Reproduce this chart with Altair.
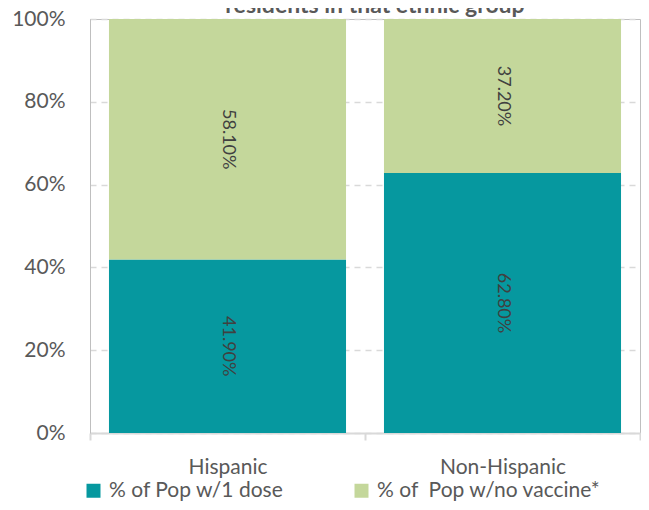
import altair as alt
import pandas as pd

categories = ["Hispanic", "Non-Hispanic"]
series = ["% of Pop w/1 dose", "% of\u00a0 Pop w/no vaccine*"]
one_dose = [0.419, 0.628]
no_vaccine = [0.581, 0.372]
one_dose_labels = ["41.90%", "62.80%"]
no_vaccine_labels = ["58.10%", "37.20%"]
y_ticks = [0, 0.2, 0.4, 0.6, 0.8, 1.0]
title_text = "residents in that ethnic group"

TEAL = "#06989f"
GREEN = "#c4d79b"
FONT = "Lato"

rows = []
for i, c in enumerate(categories):
    base = 0.0
    for j, (vals, labs) in enumerate([(one_dose, one_dose_labels), (no_vaccine, no_vaccine_labels)]):
        v = vals[i]
        rows.append({"cat": c, "series": series[j], "order": j, "y0": base,
                     "y1": base + v, "mid": base + v / 2, "label": labs[i]})
        base += v
df = pd.DataFrame(rows)

xscale = alt.Scale(domain=categories, paddingInner=0, paddingOuter=0)
yscale = alt.Scale(domain=[0, 1])

bars = alt.Chart(df).mark_bar(width=alt.RelativeBandSize(0.862)).encode(
    x=alt.X("cat:N", scale=xscale, sort=categories,
            axis=alt.Axis(title=None, labelAngle=0, domainColor="#d9d9d9", domainWidth=2,
                          tickColor="#d9d9d9", tickWidth=2, tickSize=7, tickBand="extent",
                          labelPadding=16, labelFontSize=21, labelColor="#595959",
                          labelFont=FONT, grid=False)),
    y=alt.Y("y0:Q", scale=yscale,
            axis=alt.Axis(values=y_ticks, format=".0%", ticks=False, labelPadding=25,
                          domainColor="#bfbfbf", gridColor="#d9d9d9", gridDash=[6, 5],
                          gridWidth=1.5, labelFontSize=21, labelColor="#595959",
                          labelFont=FONT, title=None)),
    y2="y1:Q",
    order=alt.Order("order:Q"),
    color=alt.Color("series:N", scale=alt.Scale(domain=series, range=[TEAL, GREEN]),
                    legend=alt.Legend(orient="none", legendX=-7, legendY=461, direction="horizontal",
                                      title=None, symbolType="square", symbolSize=196,
                                      symbolStrokeWidth=0, symbolOpacity=1,
                                      labelFontSize=21, labelColor="#595959", labelFont=FONT,
                                      labelLimit=0, columnPadding=67, labelOffset=5)),
)

labels = alt.Chart(df).mark_text(angle=90, fontSize=18, color="#404040", font=FONT).encode(
    x=alt.X("cat:N", scale=xscale, sort=categories),
    y=alt.Y("mid:Q", scale=yscale),
    text="label:N",
)

title = alt.Chart(pd.DataFrame({"t": [title_text]})).mark_text(
    fontSize=23, fontWeight="bold", color="#595959", font=FONT, baseline="alphabetic"
).encode(x=alt.value(285), y=alt.value(-6), text="t:N")

chart = alt.layer(bars, labels, title).properties(
    width=550, height=414,
    padding={"left": 82, "top": 11, "right": 1, "bottom": 69},
    autosize=alt.AutoSizeParams(type="none"),
).configure_view(stroke="#bfbfbf", strokeWidth=1)

chart.save("out.html", embed_options={"renderer": "svg", "actions": False})
